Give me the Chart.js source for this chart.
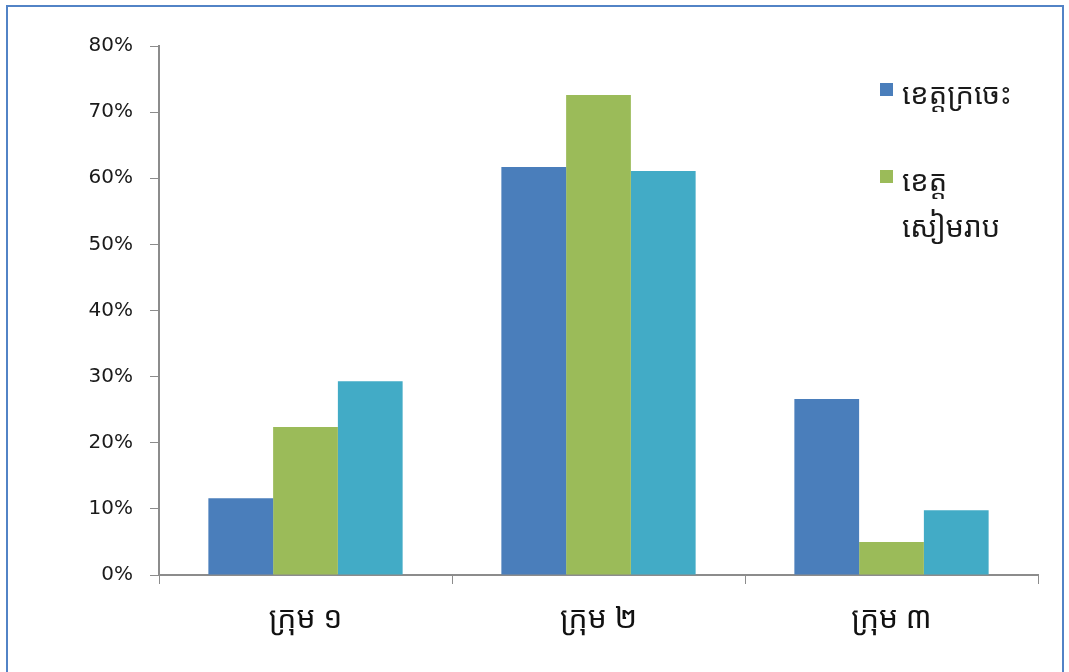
<!DOCTYPE html>
<html>
<head>
<meta charset="utf-8">
<script src="https://cdn.jsdelivr.net/npm/chart.js@4/dist/chart.umd.min.js"></script>
<style>
  html, body { margin: 0; padding: 0; background: #fff; }
  #wrap { position: relative; width: 1069px; height: 672px; overflow: hidden; }
  #frame {
    position: absolute; left: 6px; top: 5px; width: 1058px; height: 700px;
    border: 2px solid #5283c6; box-sizing: border-box;
  }
  #legend {
    position: absolute; left: 880px; top: 70px; width: 185px;
    font-family: "Noto Sans Khmer", "Khmer OS", "Noto Sans", "DejaVu Sans", sans-serif;
    font-size: 29px; color: #1a1a1a; line-height: 46px;
  }
  .item { position: relative; padding-left: 22px; margin-bottom: 41px; white-space: nowrap; }
  .box { position: absolute; left: 0; top: 13px; width: 13px; height: 13px; }
</style>
</head>
<body>
<div id="wrap">
  <canvas id="chart" width="1069" height="672"></canvas>
  <div id="frame"></div>
  <div id="legend"></div>
</div>
<script>
// 범주와 값 (비율, %)
const groups = ["ក្រុម ១", "ក្រុម ២", "ក្រុម ៣"];
const kratie = [11.6, 61.7, 26.6];
const siemReap = [22.4, 72.6, 5.0];
const third = [29.3, 61.1, 9.8];
const seriesNames = ["ខេត្តក្រចេះ", "ខេត្ត\nសៀមរាប", ""];
const colors = ["#4a7ebb", "#9bbb59", "#42abc6"];
const yTicks = [0, 10, 20, 30, 40, 50, 60, 70, 80];

const datasets = [kratie, siemReap, third].map((vals, i) => ({
    label: seriesNames[i],
    data: vals,
    backgroundColor: colors[i],
    borderWidth: 0,
    barPercentage: 1.0,
    categoryPercentage: 0.663
}));

new Chart(document.getElementById("chart"), {
    type: "bar",
    data: { labels: groups, datasets: datasets },
    options: {
        responsive: false,
        animation: false,
        layout: { padding: { top: 46, right: 31, left: 0, bottom: 0 } },
        plugins: { legend: { display: false }, tooltip: { enabled: false } },
        scales: {
            x: {
                grid: { display: true, drawOnChartArea: false, color: "#8c8c8c", tickLength: 9, offset: true },
                border: { color: "#8c8c8c", width: 2 },
                ticks: {
                    color: "#111",
                    padding: 17,
                    font: { family: "'Noto Sans Khmer', 'Khmer OS', 'Noto Sans', 'DejaVu Sans', sans-serif", size: 30 }
                },
                afterFit: s => { s.height = 97; }
            },
            y: {
                min: 0,
                max: 80,
                afterBuildTicks: s => { s.ticks = yTicks.map(v => ({ value: v })); },
                grid: { display: true, drawOnChartArea: false, color: "#8c8c8c", tickLength: 9 },
                border: { color: "#8c8c8c", width: 2 },
                ticks: {
                    color: "#1a1a1a",
                    padding: 17,
                    font: { family: "'DejaVu Sans', Verdana, sans-serif", size: 20 },
                    callback: v => v + "%"
                },
                afterFit: s => { s.width = 159; }
            }
        }
    }
});

// 범례 (차트 안쪽 오른쪽 위)
const legend = document.getElementById("legend");
datasets.forEach(ds => {
    if (!ds.label) return;
    const item = document.createElement("div");
    item.className = "item";
    const box = document.createElement("span");
    box.className = "box";
    box.style.background = ds.backgroundColor;
    item.appendChild(box);
    ds.label.split("\n").forEach(line => {
        const d = document.createElement("div");
        d.textContent = line;
        item.appendChild(d);
    });
    legend.appendChild(item);
});
</script>
</body>
</html>
